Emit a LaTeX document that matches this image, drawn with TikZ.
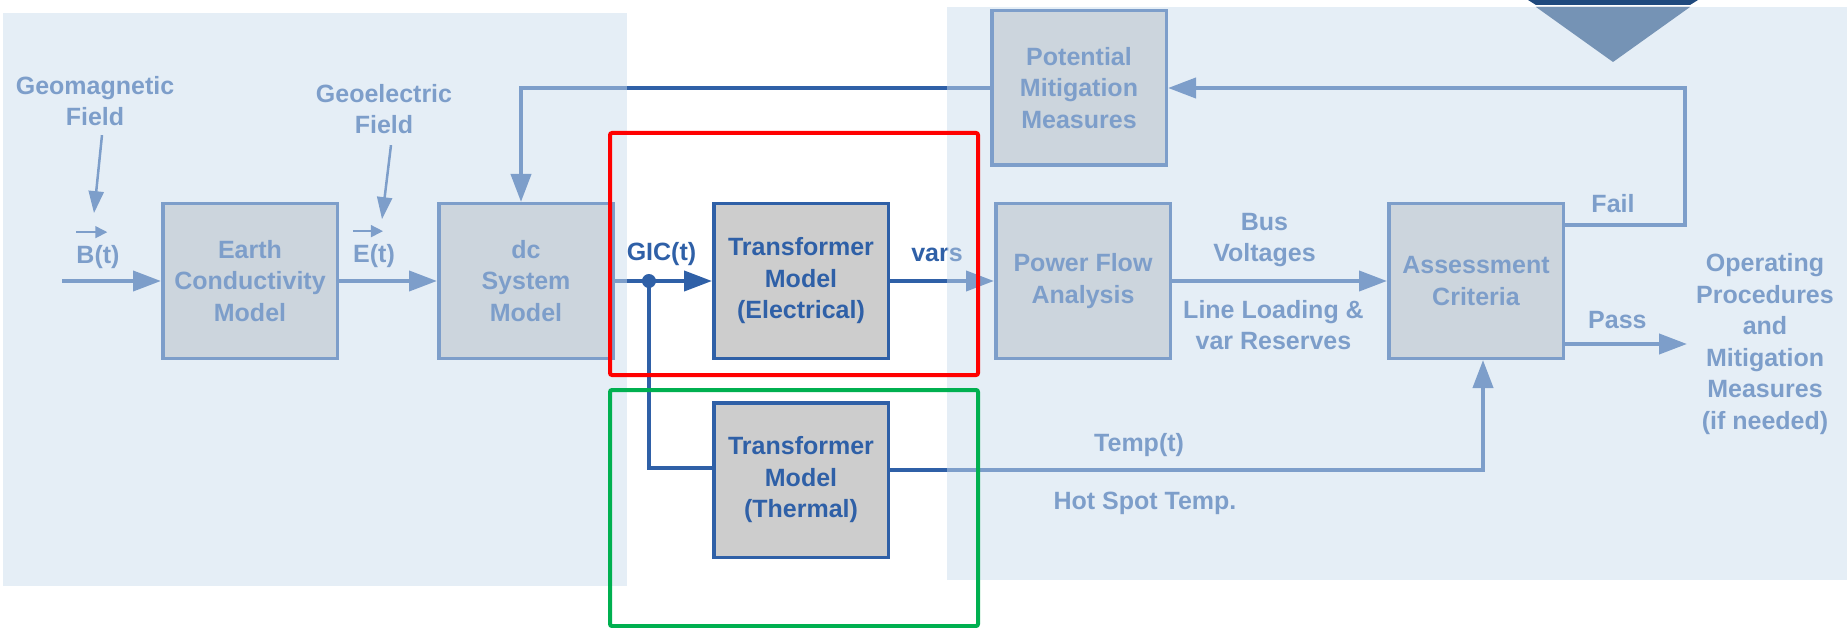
\documentclass[tikz,border=0pt]{standalone}
\usepackage{fontspec}
\setmainfont{Liberation Sans}
\usetikzlibrary{arrows.meta,positioning}
\definecolor{lineblue}{HTML}{2F60A7}
\definecolor{boxgrey}{HTML}{CDCDCD}
\definecolor{veil}{HTML}{CCDDED}
\definecolor{navy}{HTML}{1F497D}
\definecolor{hired}{HTML}{FF0000}
\definecolor{higreen}{HTML}{00B050}

\begin{document}
\begin{tikzpicture}[x=1pt, y=-1pt,
  every node/.style={font=\bfseries\fontsize{25}{31.5}\selectfont, text=lineblue, align=center},
  blk/.style={draw=lineblue, fill=boxgrey, line width=3.5pt, minimum width=174.5pt, minimum height=154.5pt, inner sep=2pt},
  lbl/.style={inner sep=0pt},
  arr/.style={-{Triangle[length=28pt,width=20pt]}, line width=4pt, draw=lineblue},
  ln/.style={line width=4pt, draw=lineblue},
  thinarr/.style={-{Triangle[length=22pt,width=15pt]}, line width=2.5pt, draw=lineblue},
  vecarr/.style={-{Triangle[length=12pt,width=12pt]}, line width=1.5pt, draw=lineblue},
  veilbox/.style={fill=veil, fill opacity=0.5},
  framebox/.style={line width=4pt, rounded corners=2pt}
]
\useasboundingbox (0,0) rectangle (1847,628);
\fill[navy] (1528,0) -- (1698,0) -- (1690,5) -- (1536,5) -- cycle;
\fill[navy] (1536,7) -- (1690,7) -- (1613,62) -- cycle;

\node[blk] (earth) at (250,281) {Earth\\Conductivity\\Model};
\node[blk, right=98pt of earth] (dc) {dc\\System\\Model};
\node[blk, right=97pt of dc] (tel) {Transformer\\Model\\(Electrical)};
\node[blk, below=41pt of tel] (tth) {Transformer\\Model\\(Thermal)};
\node[blk, right=104pt of tel] (pfa) {Power Flow\\Analysis};
\node[blk, right=215pt of pfa] (ac) {Assessment\\Criteria};
\node[blk, above=35pt of pfa, xshift=-4pt] (pmm) {Potential\\Mitigation\\Measures};

\node[lbl] (geomag) at (95,101) {Geomagnetic\\Field};
\node[lbl] (bt) at (98,257) {B(t)};
\node[lbl] (geoel) at (384,109) {Geoelectric\\Field};
\node[lbl] (et) at (374,256) {E(t)};
\node[lbl] (ops) at (1765,344) {Operating\\Procedures\\and\\Mitigation\\Measures\\(if needed)};
\coordinate (bin) at (62,281);

\draw[arr] (bin) -- (earth.west);
\draw[thinarr] ([shift={(7pt,-9pt)}]geomag.south) -- ([shift={(-4pt,32pt)}]bt.north);
\draw[vecarr] ([yshift=13pt]bt.north west) -- ([shift={(31pt,13pt)}]bt.north west);
\draw[arr] (earth.east) -- (dc.west);
\draw[thinarr] ([shift={(7pt,-11pt)}]geoel.south) -- ([shift={(8pt,25pt)}]et.north);
\draw[vecarr] ([yshift=13pt]et.north west) -- ([shift={(30pt,13pt)}]et.north west);
\draw[arr] (pmm.west) -| ([xshift=-5pt]dc.north);
\draw[arr] (dc.east) -- coordinate[pos=0.35] (jn) node[lbl, above=13pt, xshift=-2pt] (gic) {GIC(t)} (tel.west);
\fill[lineblue] (jn) circle (7pt);
\draw[ln] (jn) |- ([yshift=12pt]tth.west);
\draw[arr] (tel.east) -- node[lbl, above=17pt, xshift=-5pt] {vars} (pfa.west);
\draw[arr] (pfa.east) -- node[lbl, above=12pt, xshift=-15pt] {Bus\\Voltages}
  node[lbl, below=17pt, xshift=-6pt] {Line Loading \&\\var Reserves} (ac.west);
\draw[arr] ([yshift=56pt]ac.east) -- node[lbl, above=10pt, pos=0.4] {Fail} ++(120pt,0) |- (pmm.east);
\draw[arr, shorten >=9pt] (ops.west -| ac.east) -- node[lbl, above=13pt, pos=0.4] {Pass} (ops.west);
\draw[arr] ([yshift=10pt]tth.east) -| node[lbl, above=11pt, pos=0.21] {Temp(t)}
  node[lbl, below=20pt, pos=0.215] {Hot Spot Temp.} ([xshift=7pt]ac.south);

\fill[veilbox] (3,13) rectangle (627,586);
\fill[veilbox] (947,7) rectangle (1847,580);
\draw[framebox, hired] (610,133) rectangle (978,375);
\draw[framebox, higreen] (610,390) rectangle (978,626);
\end{tikzpicture}
\end{document}
